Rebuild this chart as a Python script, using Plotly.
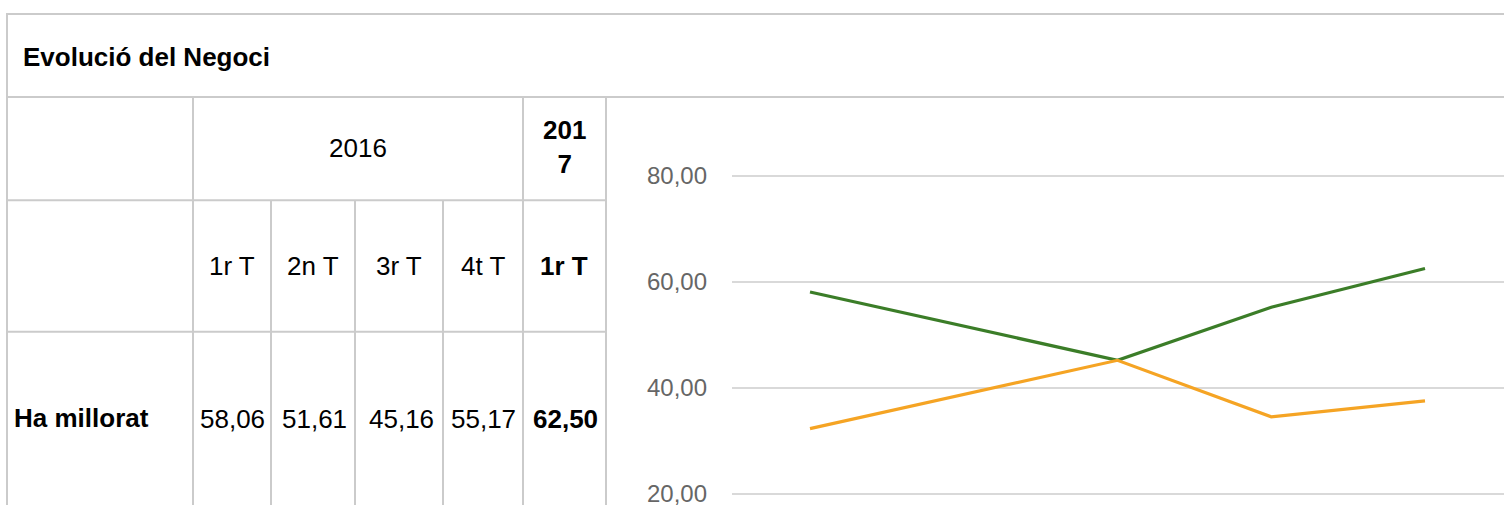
import plotly.graph_objects as go

# ---- data ----
title_text = "Evolució del Negoci"
year_2016 = "2016"
year_2017 = "2017"
quarters = ["1r T", "2n T", "3r T", "4t T", "1r T 2017"]
quarter_labels = ["1r T", "2n T", "3r T", "4t T", "1r T"]
row_label = "Ha millorat"
millorat = [58.06, 51.61, 45.16, 55.17, 62.50]
empitjorat = [32.26, 38.71, 45.16, 34.48, 37.50]
y_ticks = [20, 40, 60, 80]

W, H = 1504, 507
FONT = "Liberation Sans, Arial, sans-serif"
BORDER = "#cbcbcb"


def px(x):
    return x / W


def py(y):
    return 1 - y / H


fig = go.Figure()

fig.add_trace(go.Scatter(x=quarters, y=millorat, mode="lines", name="Ha millorat",
                         line=dict(color="#3b7d28", width=3.2)))
fig.add_trace(go.Scatter(x=quarters, y=empitjorat, mode="lines", name="Ha empitjorat",
                         line=dict(color="#f5a424", width=3.2)))

shapes = []


def hline(y, x0, x1):
    shapes.append(dict(type="line", xref="paper", yref="paper", x0=px(x0), x1=px(x1),
                       y0=py(y), y1=py(y), line=dict(color=BORDER, width=2), layer="above"))


def vline(x, y0, y1):
    shapes.append(dict(type="line", xref="paper", yref="paper", x0=px(x), x1=px(x),
                       y0=py(y0), y1=py(y1), line=dict(color=BORDER, width=2), layer="above"))


hline(14, 6, W)
hline(97.5, 6, W)
hline(201, 6, 606)
hline(333, 6, 606)
vline(7, 13, H)
vline(193, 97, H)
vline(523, 97, H)
vline(606, 97, H)
for xv in (271, 355, 443):
    vline(xv, 201, H)

annotations = []


def txt(x, y, s, bold=False, anchor="center"):
    annotations.append(dict(xref="paper", yref="paper", x=px(x), y=py(y), text=(f"<b>{s}</b>" if bold else s),
                            showarrow=False, xanchor=anchor, yanchor="middle",
                            font=dict(family=FONT, size=26, color="#000000")))


txt(21, 57, title_text, bold=True, anchor="left")
txt(358, 149, year_2016)
annotations.append(dict(xref="paper", yref="paper", x=px(564), y=py(148),
                        text=f"<b>{year_2017[:3]}<br>{year_2017[3:]}</b>", showarrow=False,
                        xanchor="center", yanchor="middle",
                        font=dict(family=FONT, size=26, color="#000000")))
q_x = [232, 313, 399, 483, 564]
for i, (qx, ql) in enumerate(zip(q_x, quarter_labels)):
    txt(qx, 267, ql, bold=(i == 4))
val_x = [232, 314, 402, 483, 565]
for i, (vx, v) in enumerate(zip(val_x, millorat)):
    txt(vx, 421, f"{v:.2f}".replace(".", ","), bold=(i == 4))
txt(12, 420, row_label, bold=True, anchor="left")

# axis mapping
ppu = (495.5 - 176.5) / 60.0
y_bottom = 80 - (H - 176.5) / ppu
y_top = 80 + (176.5 - 97.5) / ppu
x_step = (1425 - 810) / 4.0
x_left = -(810 - 732) / x_step
x_right = (W - 810) / x_step

fig.update_layout(
    width=W, height=H,
    margin=dict(l=0, r=0, t=0, b=0),
    paper_bgcolor="white", plot_bgcolor="white",
    showlegend=False,
    separators=",.",
    shapes=shapes,
    annotations=annotations,
    xaxis=dict(domain=[px(732), 1], type="category", categoryarray=quarters,
               range=[x_left, x_right], showgrid=False, showticklabels=False,
               zeroline=False, showline=False, ticks=""),
    yaxis=dict(domain=[0, py(97.5)], range=[y_bottom, y_top], tickvals=y_ticks,
               tickformat=".2f", showgrid=True, gridcolor="#d9d9d9", gridwidth=2,
               zeroline=False, showline=False, ticks="", ticklabelstandoff=24,
               ticklabeloverflow="allow",
               tickfont=dict(family=FONT, size=24, color="#666666")),
)

fig.write_html("out.html", config={"displayModeBar": False},
               post_script="document.body.style.margin='0';document.body.style.overflow='hidden';")
